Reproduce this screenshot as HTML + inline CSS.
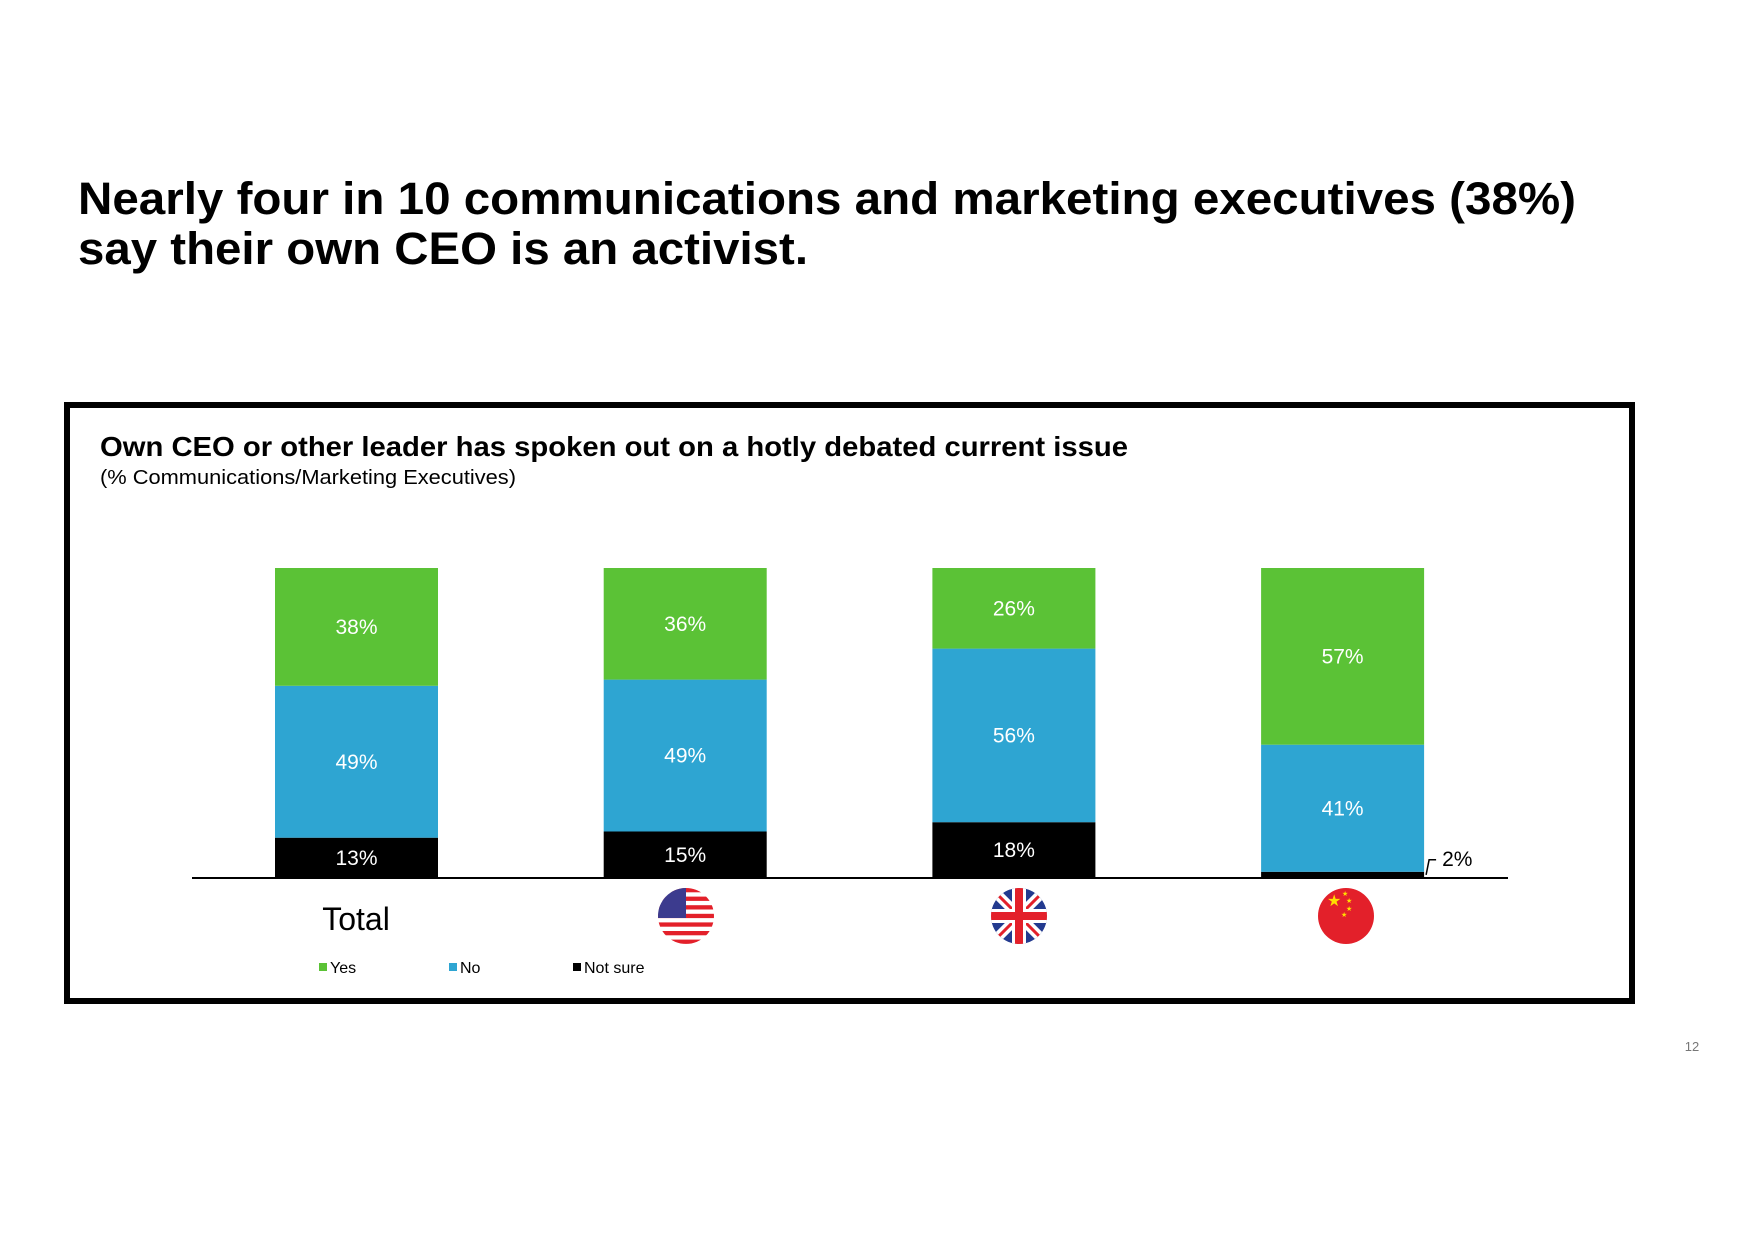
<!DOCTYPE html>
<html><head><meta charset="utf-8"><style>
body{margin:0;background:#fff;width:1754px;height:1240px;overflow:hidden;font-family:"Liberation Sans",Arial,sans-serif}
</style></head><body>
<svg width="1754" height="1240" xmlns="http://www.w3.org/2000/svg" font-family="Liberation Sans, Arial, sans-serif">
<text x="78" y="214" font-size="45" font-weight="bold" fill="#000" textLength="1498" lengthAdjust="spacingAndGlyphs">Nearly four in 10 communications and marketing executives (38%)</text>
<text x="78" y="264" font-size="45" font-weight="bold" fill="#000" textLength="730" lengthAdjust="spacingAndGlyphs">say their own CEO is an activist.</text>
<rect x="67" y="405" width="1565" height="596" fill="none" stroke="#000" stroke-width="6"/>
<text x="100" y="456" font-size="28" font-weight="bold" textLength="1028" lengthAdjust="spacingAndGlyphs">Own CEO or other leader has spoken out on a hotly debated current issue</text>
<text x="100" y="484" font-size="20" textLength="416" lengthAdjust="spacingAndGlyphs">(% Communications/Marketing Executives)</text>
<g id="bars"></g>
<line x1="192" y1="878" x2="1508" y2="878" stroke="#000" stroke-width="2"/>
<text x="356" y="930" font-size="32" text-anchor="middle">Total</text>
<g>
<clipPath id="cu"><circle cx="686" cy="916" r="28"/></clipPath>
<g clip-path="url(#cu)"><rect x="658" y="888" width="56" height="56" fill="#fff"/>
<rect x="658" y="888" width="56" height="4.3" fill="#e3202a"/><rect x="658" y="896.6" width="56" height="4.3" fill="#e3202a"/><rect x="658" y="905.2" width="56" height="4.3" fill="#e3202a"/><rect x="658" y="913.8" width="56" height="4.3" fill="#e3202a"/><rect x="658" y="922.4" width="56" height="4.3" fill="#e3202a"/><rect x="658" y="931" width="56" height="4.3" fill="#e3202a"/><rect x="658" y="939.6" width="56" height="4.3" fill="#e3202a"/>
<rect x="658" y="888" width="28" height="30" fill="#3c3b8e"/></g></g>
<g>
<clipPath id="ck"><circle cx="1019" cy="916" r="28"/></clipPath>
<g clip-path="url(#ck)"><rect x="991" y="888" width="56" height="56" fill="#233a8f"/>
<path d="M991 888L1047 944M1047 888L991 944" stroke="#fff" stroke-width="10"/>
<path d="M991 888L1047 944M1047 888L991 944" stroke="#e3202a" stroke-width="3"/>
<rect x="1012" y="888" width="14" height="56" fill="#fff"/><rect x="991" y="909" width="56" height="14" fill="#fff"/>
<rect x="1015" y="888" width="8" height="56" fill="#e3202a"/><rect x="991" y="912" width="56" height="8" fill="#e3202a"/></g></g>
<g>
<circle cx="1346" cy="916" r="28" fill="#e3202a"/>
<text x="1327" y="906" font-size="16" fill="#ffde00">★</text>
<text x="1342" y="896" font-size="7" fill="#ffde00">★</text><text x="1346" y="903" font-size="7" fill="#ffde00">★</text><text x="1346" y="911" font-size="7" fill="#ffde00">★</text><text x="1341" y="917" font-size="7" fill="#ffde00">★</text>
</g>
<g>
<rect x="319" y="963" width="8" height="8" fill="#5bc236"/><text x="330" y="973" font-size="16">Yes</text>
<rect x="449" y="963" width="8" height="8" fill="#2ea5d2"/><text x="460" y="973" font-size="16">No</text>
<rect x="573" y="963" width="8" height="8" fill="#000"/><text x="584" y="973" font-size="16">Not sure</text>
</g>
<text x="1692" y="1051" font-size="13" fill="#777" text-anchor="middle">12</text>
</svg>
<script>
const categories = ["Total", "US", "UK", "China"];
const yesValues = [38, 36, 26, 57];
const noValues = [49, 49, 56, 41];
const notSureValues = [13, 15, 18, 2];
const NS = "http://www.w3.org/2000/svg";
const g = document.getElementById("bars");
const baseY = 878, plotH = 310, x0 = 275, step = 328.7, barW = 163;
function xPos(i){ return x0 + i*step; }
function yPos(v){ return baseY - v/100*plotH; }
const series = [["not-sure", notSureValues, "#000"], ["no", noValues, "#2ea5d2"], ["yes", yesValues, "#5bc236"]];
categories.forEach((c, i) => {
  let cum = 0;
  series.forEach(([name, arr, col]) => {
    const v = arr[i];
    const y1 = yPos(cum), y2 = yPos(cum + v);
    const r = document.createElementNS(NS, "rect");
    r.setAttribute("x", xPos(i)); r.setAttribute("y", y2);
    r.setAttribute("width", barW); r.setAttribute("height", y1 - y2);
    r.setAttribute("fill", col);
    
    
    g.appendChild(r);
    const t = document.createElementNS(NS, "text");
    t.setAttribute("font-size", "21");
    if (y1 - y2 < 24) {
      t.setAttribute("x", xPos(i) + barW + 18);
      t.setAttribute("y", y2 - 6);
      t.setAttribute("fill", "#000");
      const l = document.createElementNS(NS, "path");
      l.setAttribute("d", "M" + (xPos(i)+barW+2) + " " + ((y1+y2)/2) + " L" + (xPos(i)+barW+5) + " " + (y2-12) + " L" + (xPos(i)+barW+12) + " " + (y2-12));
      l.setAttribute("stroke", "#000"); l.setAttribute("fill", "none"); l.setAttribute("stroke-width", "1.5");
      
      
      g.appendChild(l);
    } else {
      t.setAttribute("x", xPos(i) + barW/2);
      t.setAttribute("y", (y1 + y2)/2 + 7);
      t.setAttribute("text-anchor", "middle");
      t.setAttribute("fill", "#fff");
    }
    t.textContent = v + "%";
    
    
    g.appendChild(t);
    cum += v;
  });
});
</script>
</body></html>
